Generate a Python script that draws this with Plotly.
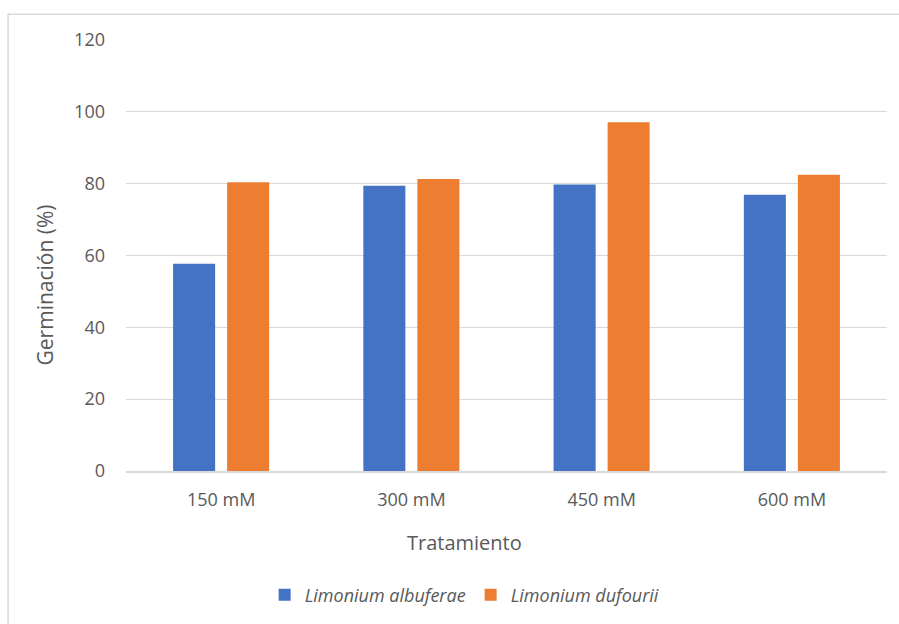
import plotly.graph_objects as go

# Germination percentage per NaCl treatment for two Limonium species
tratamientos = ["150 mM", "300 mM", "450 mM", "600 mM"]
albuferae = [57.7, 79.4, 79.8, 76.9]
dufourii = [80.4, 81.3, 97.1, 82.5]
y_ticks = [0, 20, 40, 60, 80, 100, 120]

FONT = "'Open Sans', sans-serif"
GRAY = "#595959"
GRID = "#d9d9d9"

fig = go.Figure()
fig.add_trace(go.Bar(
    x=tratamientos, y=albuferae, name="<i>Limonium albuferae</i>",
    marker=dict(color="#4472C4", line=dict(width=0)),
))
fig.add_trace(go.Bar(
    x=tratamientos, y=dufourii, name="<i>Limonium dufourii</i>",
    marker=dict(color="#ED7D31", line=dict(width=0)),
))

fig.update_layout(
    width=899, height=624,
    margin=dict(l=126, r=12, t=40, b=152),
    paper_bgcolor="white", plot_bgcolor="white",
    barmode="group", bargap=0.432, bargroupgap=0.222,
    font=dict(family=FONT, size=18, color=GRAY),
    showlegend=True,
    legend=dict(
        orientation="h", x=0.445, xanchor="center", y=-0.285, yanchor="middle",
        font=dict(family=FONT, size=18, color=GRAY),
        itemwidth=30, traceorder="normal",
    ),
    xaxis=dict(
        showgrid=False, showline=True, linecolor=GRID, linewidth=1.5,
        ticks="", ticklabelstandoff=12,
    ),
    yaxis=dict(
        range=[0, 120], tickvals=y_ticks, showgrid=True, gridcolor=GRID,
        gridwidth=1, zeroline=False, showline=False, ticks="",
        ticklabelstandoff=20,
    ),
    annotations=[
        dict(
            text="Tratamiento", xref="paper", yref="paper",
            x=0.445, y=-0.167, xanchor="center", yanchor="middle",
            showarrow=False, font=dict(family=FONT, size=20, color=GRAY),
        ),
        dict(
            text="Germinación (%)", xref="paper", yref="paper",
            x=-0.1064, y=0.4306, xanchor="center", yanchor="middle",
            textangle=-90, showarrow=False,
            font=dict(family=FONT, size=21, color=GRAY),
        ),
    ],
    shapes=[dict(
        type="rect", xref="paper", yref="paper",
        x0=-0.155, x1=1.2, y0=-0.6, y1=1.060,
        line=dict(color=GRID, width=1.5), layer="below",
    )],
)

fig.write_html("out.html")
